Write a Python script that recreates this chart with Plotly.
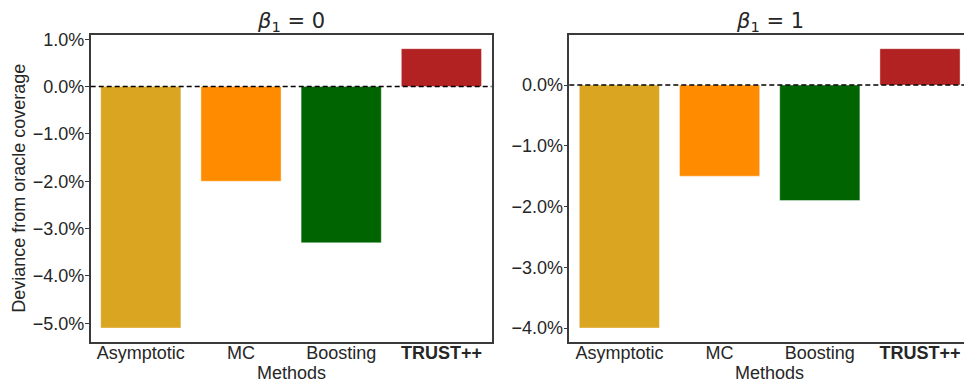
import plotly.graph_objects as go

# Coverage deviance per method, in percentage points
methods = ["Asymptotic", "MC", "Boosting", "TRUST++"]
method_labels = ["Asymptotic", "MC", "Boosting", "<b>TRUST++</b>"]
colors = ["#DAA520", "#FF8C00", "#006400", "#B22222"]

dev_beta0 = [-5.1, -2.0, -3.3, 0.8]
dev_beta1 = [-4.0, -1.5, -1.9, 0.6]

ticks_beta0 = [-5, -4, -3, -2, -1, 0, 1]
ticks_beta1 = [-4, -3, -2, -1, 0]


def pct(v):
    s = f"{abs(v):.1f}%"
    return ("\u2212" + s) if v < 0 else s


W, H = 964, 383
FONT = "Liberation Sans, Arial, sans-serif"
TXT = "#262626"
EDGE = "#3a3a3a"

bar_line = dict(width=0.8, color="rgba(255,255,255,0.5)")
fig = go.Figure()
fig.add_trace(go.Bar(x=methods, y=dev_beta0, marker=dict(color=colors, line=bar_line),
                     width=0.8, xaxis="x", yaxis="y", showlegend=False))
fig.add_trace(go.Bar(x=methods, y=dev_beta1, marker=dict(color=colors, line=bar_line),
                     width=0.8, xaxis="x2", yaxis="y2", showlegend=False))


def yrange(vals):
    lo, hi = min(min(vals), 0), max(max(vals), 0)
    pad = 0.05 * (hi - lo)
    return [lo - pad, hi + pad]


# panel geometry (pixels)
top_px, bot_px = 34.7, 342.0
left1, right1 = 90.7, 491.5
left2 = 569.3
cat_px = (right1 - left1) / 4.0          # pixels per category
right2_full = left2 + 4 * cat_px         # second panel runs past the page edge

dom_y = [1 - bot_px / H, 1 - top_px / H]
dom_x1 = [left1 / W, right1 / W]
dom_x2 = [left2 / W, 1.0]
x2_hi = -0.5 + (W - left2) / cat_px

xcommon = dict(
    categoryorder="array", categoryarray=methods,
    tickvals=methods, ticktext=method_labels, automargin=False,
    showline=True, mirror=True, linecolor=EDGE, linewidth=1.5,
    showgrid=False, zeroline=False, ticks="", ticklabelstandoff=-6,
    tickfont=dict(size=18, color=TXT, family=FONT),
)
ycommon = dict(
    showline=True, linecolor=EDGE, linewidth=1.5, showgrid=False, automargin=False,
    zeroline=False, ticks="outside", ticklen=4, tickcolor=EDGE, tickwidth=1.2,
    ticklabelstandoff=-3, tickfont=dict(size=18, color=TXT, family=FONT),
)

zero_line = dict(color="black", width=1.5, dash="5px,3px")


def ann(text, xpx, ypx, size, family=FONT, angle=0):
    return dict(text=text, x=xpx / W, y=1 - ypx / H, xref="paper", yref="paper",
                xanchor="center", yanchor="middle", showarrow=False, textangle=angle,
                font=dict(size=size, color=TXT, family=family))


c1 = (left1 + right1) / 2
c2 = (left2 + right2_full) / 2

fig.update_layout(
    width=W, height=H, margin=dict(l=0, r=0, t=0, b=0, autoexpand=False),
    paper_bgcolor="white", plot_bgcolor="white",
    font=dict(family=FONT, color=TXT),
    xaxis=dict(domain=dom_x1, anchor="y", range=[-0.5, 3.5], **xcommon),
    xaxis2=dict(domain=dom_x2, anchor="y2", range=[-0.5, x2_hi], **xcommon),
    yaxis=dict(domain=dom_y, anchor="x", range=yrange(dev_beta0), mirror=True,
               tickvals=ticks_beta0, ticktext=[pct(v) for v in ticks_beta0],
               **ycommon),
    yaxis2=dict(domain=dom_y, anchor="x2", range=yrange(dev_beta1), mirror=False,
                tickvals=ticks_beta1, ticktext=[pct(v) for v in ticks_beta1],
                **ycommon),
    shapes=[
        dict(type="line", xref="x domain", yref="y", x0=0, x1=1, y0=0, y1=0,
             line=zero_line, layer="above"),
        dict(type="line", xref="x2 domain", yref="y2", x0=0, x1=1, y0=0, y1=0,
             line=zero_line, layer="above"),
    ],
    annotations=[
        ann("<i>β</i><sub>1</sub> = 0", c1, 21.5, 21, family="DejaVu Sans"),
        ann("<i>β</i><sub>1</sub> = 1", c2, 21.5, 21, family="DejaVu Sans"),
        ann("Methods", c1, 372.5, 18),
        ann("Methods", c2, 372.5, 18),
        ann("Deviance from oracle coverage", 19.5, (top_px + bot_px) / 2, 18, angle=-90),
    ],
)

fig.write_html("out.html")
